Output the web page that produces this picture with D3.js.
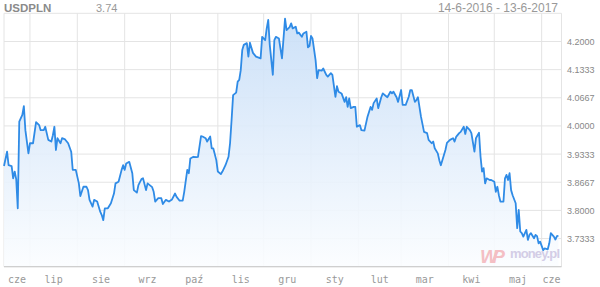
<!DOCTYPE html>
<html><head><meta charset="utf-8">
<script src="https://cdn.jsdelivr.net/npm/d3@7"></script>
<style>body{margin:0;background:#fff}svg{display:block}</style>
</head><body>
<svg id="c" width="600" height="287"></svg>
<script>
const symbol = "USDPLN";
const lastValue = "3.74";
const rangeText = "14-6-2016 - 13-6-2017";
const startDate = "2016-06-14";
const endDate = "2017-06-14";
const monthLabels = ["cze","lip","sie","wrz","paź","lis","gru","sty","lut","mar","kwi","maj","cze"];
const yTicks = [3.6667,3.7333,3.8,3.8667,3.9333,4.0,4.0667,4.1333,4.2,4.2667];
const yTickLabels = ["","3.7333","3.8000","3.8667","3.9333","4.0000","4.0667","4.1333","4.2000",""];
// day offsets from startDate
const days = [0,2,3,5,6,7,8,9,10,12,13,14,16,17,19,21,23,24,26,27,29,31,32,33,34,35,37,38,40,42,44,45,47,49,50,52,54,55,56,58,59,61,63,64,65,66,68,70,72,73,75,77,78,79,80,82,84,85,87,88,90,91,93,94,97,98,99,101,103,104,106,108,110,112,113,115,117,118,120,121,122,124,126,127,129,130,132,133,135,136,137,139,140,142,143,145,147,148,149,150,152,153,154,155,156,157,159,160,161,163,165,168,169,171,172,173,174,176,177,178,180,182,184,185,187,188,189,191,192,193,195,196,198,199,200,201,202,204,205,206,208,209,211,212,214,215,217,218,219,221,223,224,225,226,227,229,230,231,233,234,236,238,240,241,242,244,245,247,248,250,251,253,254,255,257,258,260,261,263,265,266,267,269,270,271,273,275,277,278,280,281,282,284,285,286,287,289,290,292,294,295,296,298,299,301,302,303,305,306,308,309,311,312,313,314,315,316,318,319,321,322,323,324,325,327,328,329,330,331,332,333,335,336,337,338,339,340,342,343,344,345,347,348,349,350,351,353,354,356,357,358,360,361,362,363];
const values = [3.905,3.939,3.907,3.905,3.876,3.892,3.874,3.805,4.010,4.026,4.047,3.990,3.935,3.959,3.959,4.009,4.002,3.990,3.990,3.998,3.967,3.963,3.978,3.998,3.943,3.971,3.959,3.971,3.968,3.959,3.939,3.896,3.896,3.864,3.834,3.856,3.856,3.848,3.825,3.809,3.825,3.821,3.797,3.789,3.777,3.805,3.805,3.817,3.840,3.864,3.868,3.896,3.907,3.896,3.911,3.915,3.888,3.848,3.842,3.860,3.874,3.876,3.848,3.864,3.855,3.844,3.821,3.829,3.829,3.815,3.825,3.821,3.826,3.840,3.832,3.823,3.823,3.844,3.896,3.888,3.923,3.927,3.926,3.927,3.976,3.975,3.971,3.963,3.975,3.947,3.947,3.919,3.892,3.886,3.892,3.907,3.927,3.959,4.014,4.073,4.079,4.105,4.109,4.132,4.180,4.192,4.196,4.164,4.197,4.173,4.164,4.160,4.211,4.203,4.231,4.251,4.192,4.121,4.203,4.211,4.207,4.160,4.254,4.227,4.234,4.243,4.231,4.235,4.219,4.221,4.211,4.219,4.223,4.186,4.189,4.213,4.207,4.156,4.113,4.132,4.131,4.136,4.121,4.117,4.125,4.121,4.069,4.094,4.081,4.077,4.057,4.068,4.045,4.065,4.042,4.045,4.045,3.998,4.002,3.990,3.989,4.022,4.045,4.038,4.054,4.065,4.042,4.068,4.077,4.071,4.068,4.081,4.077,4.081,4.068,4.057,4.085,4.050,4.050,4.069,4.085,4.085,4.057,4.061,4.068,4.022,3.986,3.983,3.967,3.959,3.963,3.947,3.935,3.919,3.907,3.919,3.943,3.960,3.967,3.971,3.963,3.974,3.983,3.986,3.998,3.981,3.998,3.990,3.983,3.939,3.971,3.984,3.927,3.892,3.900,3.864,3.876,3.872,3.872,3.868,3.844,3.856,3.836,3.821,3.821,3.876,3.884,3.872,3.888,3.848,3.836,3.817,3.758,3.801,3.750,3.746,3.738,3.754,3.730,3.742,3.746,3.734,3.742,3.739,3.722,3.726,3.706,3.710,3.708,3.722,3.746,3.738,3.731,3.739,3.740];

(function(){
const svg = d3.select("#c");
const pL = 4, pR = 561.5, pT = 13.3, pB = 266.7;
const parse = d3.timeParse("%Y-%m-%d");
const d0 = parse(startDate), d1 = parse(endDate);
const n = Math.min(days.length, values.length);
const data = days.slice(0,n).map((d,i)=>({date: d3.timeDay.offset(d0, d), v: values[i]}));
const x = d3.scaleTime().domain([d0, d1]).range([pL, pR]);
const y = d3.scaleLinear().domain([yTicks[0], yTicks[yTicks.length-1]]).range([pB, pT]);

const defs = svg.append("defs");
const g = defs.append("linearGradient").attr("id","fillg").attr("gradientUnits","userSpaceOnUse")
  .attr("x1",0).attr("x2",0).attr("y1",pT).attr("y2",pB);
g.append("stop").attr("offset","0").attr("stop-color","#c6ddf7");
g.append("stop").attr("offset","1").attr("stop-color","#fbfdff");

const months = d3.timeMonth.range(d3.timeMonth.ceil(d0), d1);
svg.append("g").selectAll("line").data(yTicks).join("line")
  .attr("x1",pL).attr("x2",pR).attr("y1",d=>y(d)).attr("y2",d=>y(d))
  .attr("stroke","#e4e4e4").attr("stroke-width",1);
svg.append("g").selectAll("line").data(months).join("line")
  .attr("x1",d=>x(d)).attr("x2",d=>x(d)).attr("y1",pT).attr("y2",pB)
  .attr("stroke","#e4e4e4").attr("stroke-width",1);
svg.append("line").attr("x1",pL).attr("x2",pL).attr("y1",pT).attr("y2",pB).attr("stroke","#e4e4e4");
svg.append("line").attr("x1",pR).attr("x2",pR).attr("y1",pT).attr("y2",pB).attr("stroke","#e4e4e4");

const area = d3.area().x(d=>x(d.date)).y0(pB).y1(d=>y(d.v));
const line = d3.line().x(d=>x(d.date)).y(d=>y(d.v));
svg.append("path").datum(data).attr("d",area).attr("fill","url(#fillg)").attr("fill-opacity",0.9);

const wm = svg.append("g");
wm.append("text").attr("x",480).attr("y",263).attr("font-family","Liberation Sans, Arial").attr("font-weight","bold")
  .attr("font-style","italic").attr("font-size",19).attr("fill","#f4bfc4").attr("textLength",25).text("WP");
wm.append("text").attr("x",510).attr("y",257.5).attr("font-family","Liberation Sans, Arial").attr("font-weight","bold")
  .attr("font-size",13).attr("fill","#d3cde6").attr("textLength",50).text("money.pl");

svg.append("path").datum(data).attr("d",line).attr("fill","none").attr("stroke","#2f8be6")
  .attr("stroke-width",1.8).attr("stroke-linejoin","round");

svg.append("line").attr("x1",pL).attr("x2",pR).attr("y1",pB).attr("y2",pB).attr("stroke","#cfcfcf").attr("stroke-width",1.3);

const bounds = [d0, ...months, d1];
const mids = bounds.slice(0,-1).map((b,i)=>(x(b)+x(bounds[i+1]))/2);
svg.append("g").selectAll("text").data(mids).join("text")
  .attr("x",d=>d).attr("y",283).attr("text-anchor","middle")
  .attr("font-family","DejaVu Sans Mono, monospace").attr("font-size",10).attr("fill","#999")
  .text((d,i)=>monthLabels[i]);

svg.append("g").selectAll("text").data(yTicks).join("text")
  .attr("x",567).attr("y",d=>y(d)+3.5)
  .attr("font-family","Liberation Sans, Arial").attr("font-size",9).attr("fill","#888")
  .text((d,i)=>yTickLabels[i]);

svg.append("text").attr("x",4).attr("y",12).attr("font-family","Liberation Sans, Arial").attr("font-weight","bold")
  .attr("font-size",11.5).attr("fill","#8a8a8a").text(symbol);
svg.append("text").attr("x",96).attr("y",12).attr("font-family","Liberation Sans, Arial")
  .attr("font-size",11).attr("fill","#999").text(lastValue);
svg.append("text").attr("x",558).attr("y",12).attr("text-anchor","end").attr("font-family","Liberation Sans, Arial")
  .attr("font-size",12).attr("fill","#999").text(rangeText);
})();
</script>
</body></html>
